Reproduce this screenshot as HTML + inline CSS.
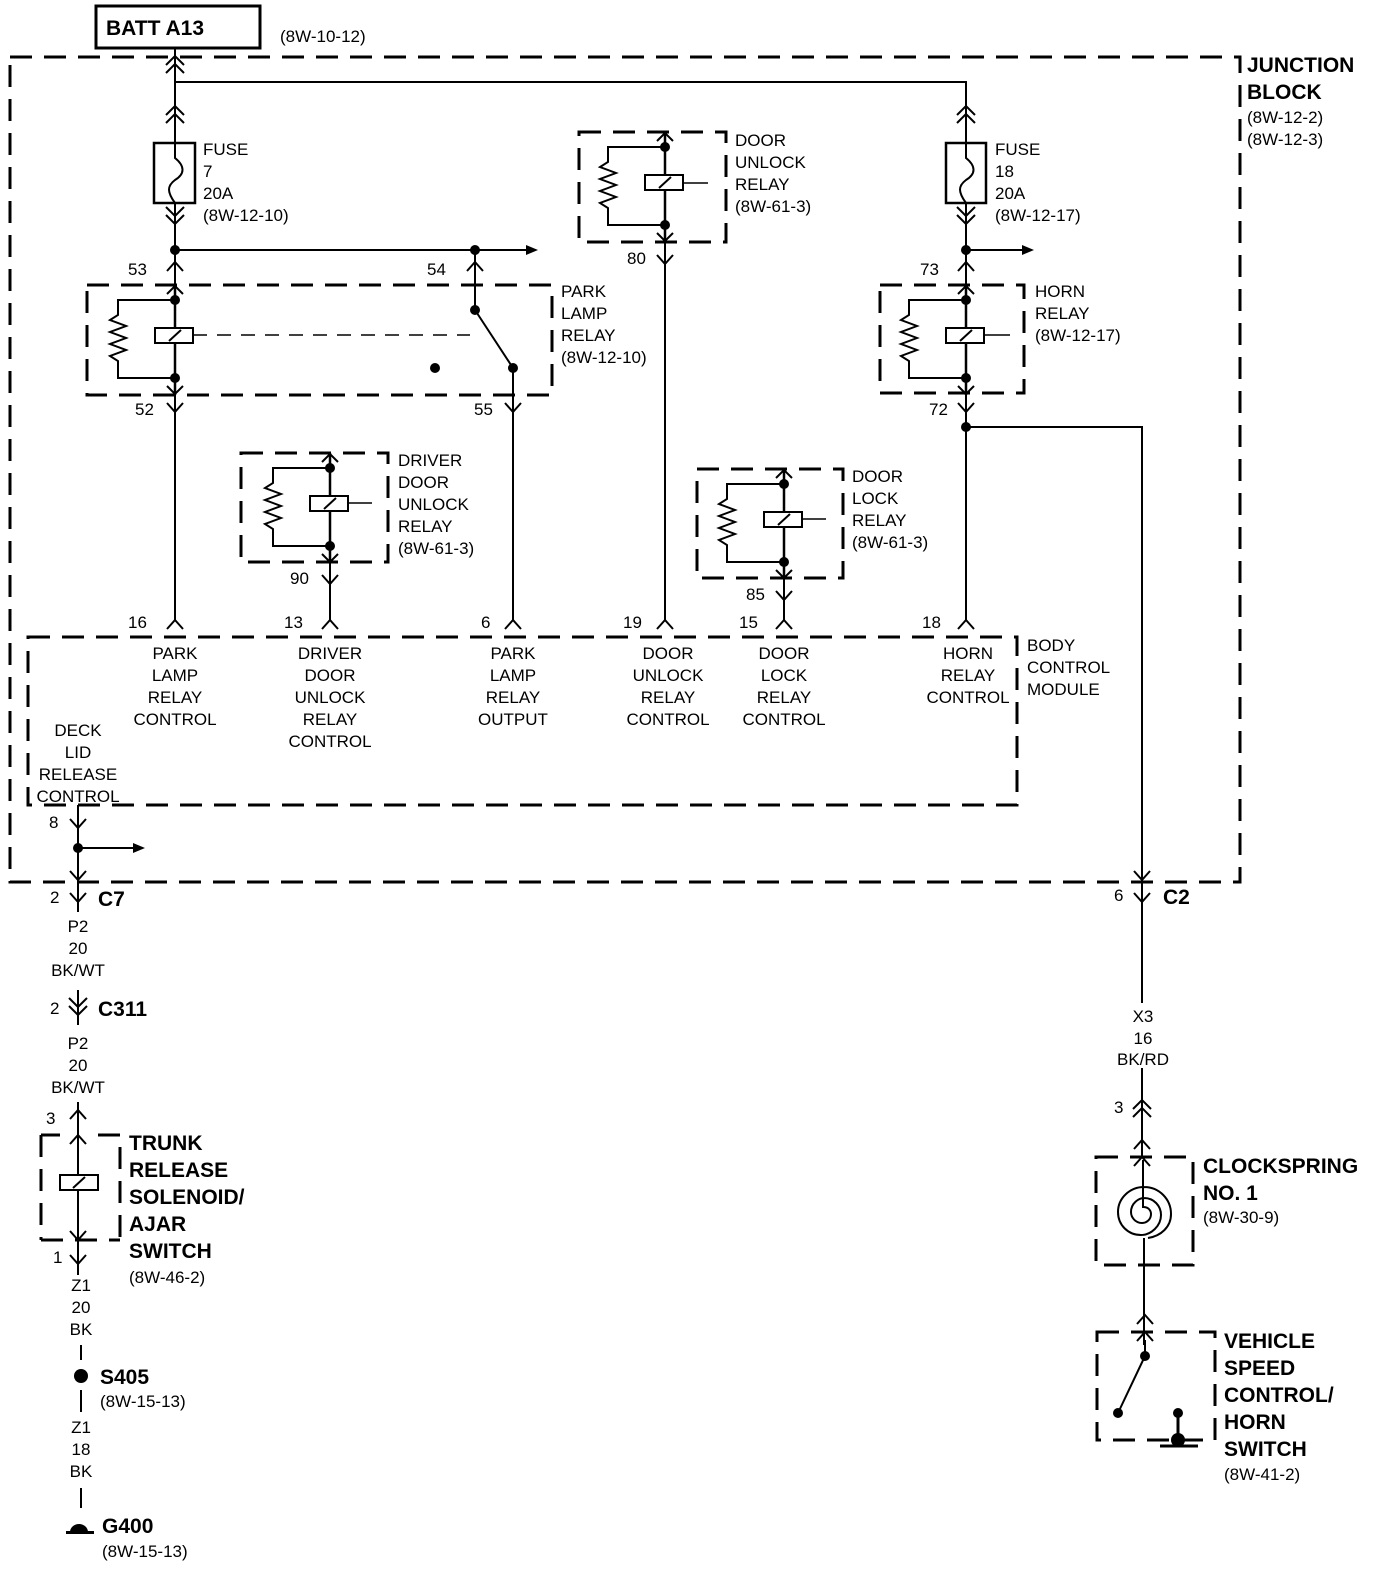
<!DOCTYPE html>
<html><head><meta charset="utf-8"><style>
html,body{margin:0;background:#fff;overflow:hidden}
svg{display:block}
text{font-family:"Liberation Sans",sans-serif;font-size:17px;fill:#000}
.b{font-weight:bold;font-size:21px}
.c{text-anchor:middle}
</style></head><body>
<svg width="1392" height="1582" viewBox="0 0 1392 1582" xmlns="http://www.w3.org/2000/svg">
<defs>
<path id="yd" d="M-8,-9 L0,0 L8,-9" fill="none" stroke="#000" stroke-width="2"/>
<path id="yu" d="M-8,9 L0,0 L8,9" fill="none" stroke="#000" stroke-width="2"/>
<g id="dblu"><path d="M-9,9 L0,0 L9,9 M-9,17 L0,8 L9,17" fill="none" stroke="#000" stroke-width="2"/></g>
<g id="dbld"><path d="M-9,-9 L0,0 L9,-9 M-9,-17 L0,-8 L9,-17" fill="none" stroke="#000" stroke-width="2"/></g>
<g id="relay">
<line x1="0" y1="0" x2="0" y2="110" stroke="#000" stroke-width="2.5"/>
<path d="M-8,9 L0,1 L8,9 M-8,101 L0,109 L8,101" fill="none" stroke="#000" stroke-width="2"/>
<circle cx="0" cy="15" r="5"/><circle cx="0" cy="93" r="5"/>
<path d="M0,15 H-57 V30 l-8,5 16,6 -16,6 16,6 -16,6 16,6 -16,6 8,5 V93 H0" fill="none" stroke="#000" stroke-width="2"/>
<rect x="-20" y="43" width="38" height="15" fill="#fff" stroke="#000" stroke-width="2"/>
<line x1="-6" y1="56" x2="6" y2="45" stroke="#000" stroke-width="2"/>
</g>
<marker id="ar" markerWidth="12" markerHeight="10" refX="2" refY="5" orient="auto" markerUnits="userSpaceOnUse"><path d="M0,0 L12,5 L0,10z"/></marker>
</defs>
<g stroke="#000" fill="none">
<rect x="10" y="57" width="1230" height="825" stroke-width="3" stroke-dasharray="22,12"/>
<rect x="28" y="637" width="989" height="168" stroke-width="3" stroke-dasharray="22,12"/>
<rect x="96" y="6" width="164" height="42" stroke-width="3"/>
<path d="M175,48 V620 M175,82 H966 V620 M966,427 H1142 V1003 M1142,1068 V1157" stroke-width="2"/>
<path d="M175,250 H528" stroke-width="2" marker-end="url(#ar)"/>
<path d="M966,250 H1024" stroke-width="2" marker-end="url(#ar)"/>
<path d="M475,250 V285 M513,368 V620 M665,242 V620 M330,562 V620 M784,578 V620" stroke-width="2"/>
<rect x="154" y="143" width="41" height="60" stroke-width="2.5" fill="#fff"/>
<path d="M175,143 v15 c10,8 10,16 0,22 c-8,6 -8,12 0,23" stroke-width="2"/>
<rect x="946" y="143" width="40" height="60" stroke-width="2.5" fill="#fff"/>
<path d="M966,143 v15 c10,8 10,16 0,22 c-8,6 -8,12 0,23" stroke-width="2"/>
<rect x="87" y="285" width="465" height="110" stroke-width="3" stroke-dasharray="22,12"/>
<rect x="579" y="132" width="147" height="110" stroke-width="3" stroke-dasharray="22,12"/>
<rect x="880" y="285" width="144" height="108" stroke-width="3" stroke-dasharray="22,12"/>
<rect x="241" y="453" width="147" height="109" stroke-width="3" stroke-dasharray="22,12"/>
<rect x="697" y="469" width="146" height="109" stroke-width="3" stroke-dasharray="22,12"/>
<line x1="193" y1="335" x2="470" y2="335" stroke-width="1.5" stroke-dasharray="14,10"/>
<path d="M475,285 V310 L513,368 V395" stroke-width="2"/>
<path d="M683,183 H708 M984,335 H1010 M348,503 H372 M802,519 H826" stroke-width="1.5"/>
<path d="M78,805 V912 M78,990 V1025 M78,1102 V1275 M81,1345 V1360 M81,1390 V1412 M81,1488 V1508" stroke-width="2"/>
<path d="M78,848 H135" stroke-width="2" marker-end="url(#ar)"/>
<path d="M41,1135 V1240 M41,1135 H60 M98,1135 H120 V1240 M41,1240 H120" stroke-width="3" stroke-dasharray="22,12"/>
<rect x="60" y="1175" width="38" height="15" stroke-width="2" fill="#fff"/>
<line x1="73" y1="1188" x2="85" y2="1177" stroke-width="2"/>
<rect x="1096" y="1157" width="97" height="108" stroke-width="3" stroke-dasharray="22,12"/>
<path d="M1143,1160 V1207 c6,0 8,4 8,7 c0,6 -5,9 -9,9 c-7,0 -11,-6 -11,-11 c0,-9 8,-14 13,-14 c10,0 17,8 17,17 c0,11 -10,20 -20,20 c-13,0 -23,-10 -23,-23 c0,-14 12,-25 26,-25 c15,0 27,12 27,27 c0,13 -10,22 -23,24" stroke-width="2"/>
<path d="M1144,1238 V1345" stroke-width="2"/>
<rect x="1097" y="1332" width="118" height="108" stroke-width="3" stroke-dasharray="22,12"/>
<path d="M1145,1340 V1356 L1118,1413" stroke-width="2"/>
<path d="M1178,1413 V1440 M1160,1446 H1198" stroke-width="3"/>
</g>
<use href="#dblu" x="175" y="56"/><use href="#dblu" x="175" y="106"/>
<use href="#dbld" x="175" y="224"/>
<use href="#dblu" x="966" y="106"/><use href="#dbld" x="966" y="224"/>
<use href="#yu" x="175" y="262"/><use href="#yu" x="475" y="262"/><use href="#yu" x="966" y="262"/>
<use href="#yd" x="175" y="412"/><use href="#yd" x="513" y="412"/><use href="#yd" x="966" y="412"/>
<use href="#yd" x="665" y="264"/><use href="#yd" x="330" y="584"/><use href="#yd" x="784" y="600"/>
<use href="#yu" x="175" y="620"/><use href="#yu" x="330" y="620"/><use href="#yu" x="513" y="620"/><use href="#yu" x="665" y="620"/><use href="#yu" x="784" y="620"/><use href="#yu" x="966" y="620"/>
<use href="#yd" x="78" y="828"/><use href="#yd" x="78" y="880"/><use href="#yd" x="78" y="902"/>
<use href="#yd" x="1142" y="880"/><use href="#yd" x="1142" y="902"/>
<use href="#dbld" x="78" y="1015"/>
<use href="#yu" x="78" y="1110"/><use href="#yu" x="78" y="1135"/><use href="#yd" x="78" y="1240"/><use href="#yd" x="78" y="1264"/>
<use href="#dblu" x="1142" y="1100"/><use href="#yu" x="1142" y="1140"/><use href="#yu" x="1142" y="1157"/>
<use href="#yu" x="1145" y="1315"/><use href="#yu" x="1145" y="1332"/>
<use href="#relay" x="175" y="285"/>
<use href="#relay" x="665" y="132"/>
<use href="#relay" x="966" y="285"/>
<use href="#relay" x="330" y="453"/>
<use href="#relay" x="784" y="469"/>
<g>
<circle cx="175" cy="250" r="5"/><circle cx="475" cy="250" r="5"/><circle cx="966" cy="250" r="5"/>
<circle cx="475" cy="310" r="5"/><circle cx="513" cy="368" r="5"/><circle cx="435" cy="368" r="5"/>
<circle cx="966" cy="427" r="5"/><circle cx="78" cy="848" r="5"/>
<circle cx="81" cy="1376" r="7"/><circle cx="1145" cy="1356" r="5"/><circle cx="1118" cy="1413" r="5"/>
<circle cx="1178" cy="1413" r="5"/><circle cx="1178" cy="1440" r="7"/>
<path d="M70,1532 a9,8 0 0 1 18,0z"/><rect x="66" y="1531" width="28" height="3"/>
</g>
<text class="b" x="106" y="35">BATT A13</text>
<text x="280" y="42">(8W-10-12)</text>
<text class="b" x="1247" y="72">JUNCTION</text><text class="b" x="1247" y="99">BLOCK</text>
<text x="1247" y="123">(8W-12-2)</text><text x="1247" y="145">(8W-12-3)</text>
<text x="203" y="155">FUSE</text><text x="203" y="177">7</text><text x="203" y="199">20A</text><text x="203" y="221">(8W-12-10)</text>
<text x="995" y="155">FUSE</text><text x="995" y="177">18</text><text x="995" y="199">20A</text><text x="995" y="221">(8W-12-17)</text>
<text x="735" y="146">DOOR</text><text x="735" y="168">UNLOCK</text><text x="735" y="190">RELAY</text><text x="735" y="212">(8W-61-3)</text>
<text x="561" y="297">PARK</text><text x="561" y="319">LAMP</text><text x="561" y="341">RELAY</text><text x="561" y="363">(8W-12-10)</text>
<text x="1035" y="297">HORN</text><text x="1035" y="319">RELAY</text><text x="1035" y="341">(8W-12-17)</text>
<text x="398" y="466">DRIVER</text><text x="398" y="488">DOOR</text><text x="398" y="510">UNLOCK</text><text x="398" y="532">RELAY</text><text x="398" y="554">(8W-61-3)</text>
<text x="852" y="482">DOOR</text><text x="852" y="504">LOCK</text><text x="852" y="526">RELAY</text><text x="852" y="548">(8W-61-3)</text>
<text x="128" y="275">53</text><text x="427" y="275">54</text><text x="920" y="275">73</text>
<text x="135" y="415">52</text><text x="474" y="415">55</text><text x="929" y="415">72</text>
<text x="627" y="264">80</text><text x="290" y="584">90</text><text x="746" y="600">85</text>
<text x="128" y="628">16</text><text x="284" y="628">13</text><text x="481" y="628">6</text><text x="623" y="628">19</text><text x="739" y="628">15</text><text x="922" y="628">18</text>
<text class="c" x="175" y="659">PARK</text><text class="c" x="175" y="681">LAMP</text><text class="c" x="175" y="703">RELAY</text><text class="c" x="175" y="725">CONTROL</text>
<text class="c" x="330" y="659">DRIVER</text><text class="c" x="330" y="681">DOOR</text><text class="c" x="330" y="703">UNLOCK</text><text class="c" x="330" y="725">RELAY</text><text class="c" x="330" y="747">CONTROL</text>
<text class="c" x="513" y="659">PARK</text><text class="c" x="513" y="681">LAMP</text><text class="c" x="513" y="703">RELAY</text><text class="c" x="513" y="725">OUTPUT</text>
<text class="c" x="668" y="659">DOOR</text><text class="c" x="668" y="681">UNLOCK</text><text class="c" x="668" y="703">RELAY</text><text class="c" x="668" y="725">CONTROL</text>
<text class="c" x="784" y="659">DOOR</text><text class="c" x="784" y="681">LOCK</text><text class="c" x="784" y="703">RELAY</text><text class="c" x="784" y="725">CONTROL</text>
<text class="c" x="968" y="659">HORN</text><text class="c" x="968" y="681">RELAY</text><text class="c" x="968" y="703">CONTROL</text>
<text class="c" x="78" y="736">DECK</text><text class="c" x="78" y="758">LID</text><text class="c" x="78" y="780">RELEASE</text><text class="c" x="78" y="802">CONTROL</text>
<text class="c" x="78" y="932">P2</text><text class="c" x="78" y="954">20</text><text class="c" x="78" y="976">BK/WT</text>
<text class="c" x="78" y="1049">P2</text><text class="c" x="78" y="1071">20</text><text class="c" x="78" y="1093">BK/WT</text>
<text class="c" x="81" y="1291">Z1</text><text class="c" x="81" y="1313">20</text><text class="c" x="81" y="1335">BK</text>
<text class="c" x="81" y="1433">Z1</text><text class="c" x="81" y="1455">18</text><text class="c" x="81" y="1477">BK</text>
<text class="c" x="1143" y="1022">X3</text><text class="c" x="1143" y="1044">16</text><text class="c" x="1143" y="1065">BK/RD</text>
<text x="1027" y="651">BODY</text><text x="1027" y="673">CONTROL</text><text x="1027" y="695">MODULE</text>
<text x="49" y="828">8</text>
<text x="50" y="903">2</text><text class="b" x="98" y="906">C7</text>
<text x="50" y="1014">2</text><text class="b" x="98" y="1016">C311</text>
<text x="46" y="1124">3</text><text x="53" y="1263">1</text>
<text class="b" x="129" y="1150">TRUNK</text><text class="b" x="129" y="1177">RELEASE</text><text class="b" x="129" y="1204">SOLENOID/</text><text class="b" x="129" y="1231">AJAR</text><text class="b" x="129" y="1258">SWITCH</text>
<text x="129" y="1283">(8W-46-2)</text>
<text class="b" x="100" y="1384">S405</text><text x="100" y="1407">(8W-15-13)</text>
<text class="b" x="102" y="1533">G400</text><text x="102" y="1557">(8W-15-13)</text>
<text x="1114" y="901">6</text><text class="b" x="1163" y="904">C2</text>
<text x="1114" y="1113">3</text>
<text class="b" x="1203" y="1173">CLOCKSPRING</text><text class="b" x="1203" y="1200">NO. 1</text><text x="1203" y="1223">(8W-30-9)</text>
<text class="b" x="1224" y="1348">VEHICLE</text><text class="b" x="1224" y="1375">SPEED</text><text class="b" x="1224" y="1402">CONTROL/</text><text class="b" x="1224" y="1429">HORN</text><text class="b" x="1224" y="1456">SWITCH</text>
<text x="1224" y="1480">(8W-41-2)</text>
</svg>
</body></html>
